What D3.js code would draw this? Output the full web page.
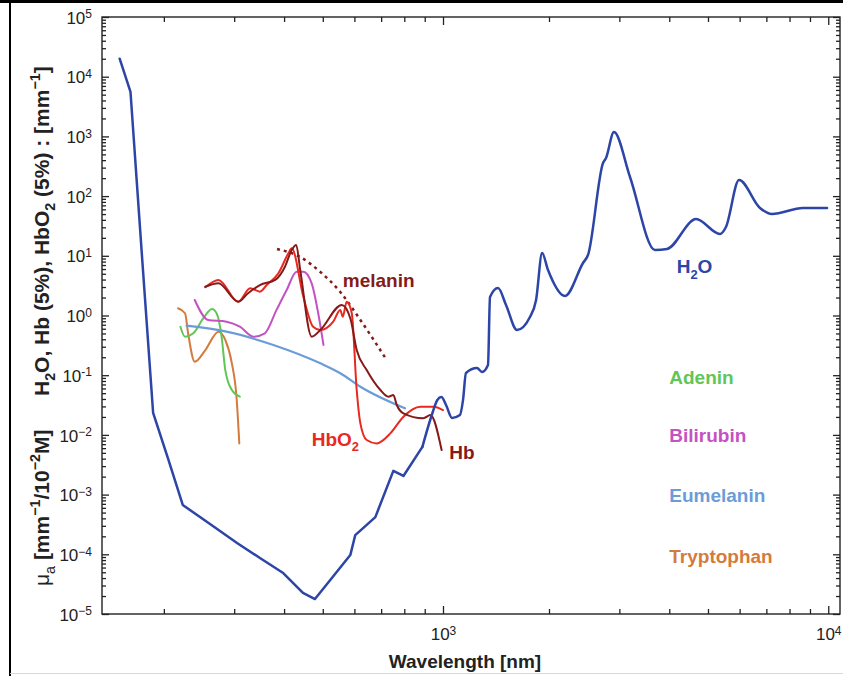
<!DOCTYPE html>
<html>
<head>
<meta charset="utf-8">
<script src="https://cdn.jsdelivr.net/npm/d3@7"></script>
<style>
  body { margin: 0; background: #fff; }
  text { font-family: "Liberation Sans", Arial, Helvetica, sans-serif; }
</style>
</head>
<body>
<div id="chart_div"></div>
<script>
// ---- data (wavelength in nm, absorption in mm^-1) ----
const h2oWavelength = [155, 165, 176, 188, 205, 223, 261, 305, 348, 398, 446, 478, 522, 586, 603, 677, 751, 796, 888, 941, 968, 991, 1020, 1061,
    1117, 1140, 1162, 1249, 1291, 1342, 1360, 1433, 1510, 1622, 1766, 1838, 1912, 1987, 2193, 2433, 2504, 2731, 2778, 2908,
    3190, 3684, 3949, 4667, 5358, 5546, 5979, 6747, 7230, 8644, 9930];
const h2oAbsorption = [2.0e4, 5.55e3, 11.6, 2.33e-2, 3.95e-3, 6.7e-4, 3.22e-4, 1.55e-4, 8.67e-5, 4.86e-5, 2.25e-5, 1.78e-5, 3.7e-5, 9.7e-5,
    2.1e-4, 4.2e-4, 2.5e-3, 2.05e-3, 6.3e-3, 2.33e-2, 3.85e-2, 4.3e-2, 3.17e-2, 1.92e-2,
    2.15e-2, 3.85e-2, 0.109, 0.132, 0.113, 0.148, 2.04, 2.89, 1.5, 0.571,
    0.944, 1.82, 11.1, 5.78, 2.12, 7.57, 10.3, 358, 435, 1185,
    209, 12.5, 13.0, 41.3, 23.2, 30.4, 186, 63.2, 50.1, 63.2, 63.2];
// below this wavelength the source trace is drawn as straight segments
const h2oLinearUntil = 888;

const hbo2Wavelength = [254, 274, 307, 329, 348, 362, 387, 410, 418, 447, 473, 493, 531, 553, 561, 574, 591, 608, 621, 644, 682, 738, 796, 878, 946, 1000];
const hbo2Absorption = [2.97, 3.94, 1.70, 2.86, 2.51, 3.24, 5.09, 11.0, 13.4, 2.07, 0.649, 0.571, 0.787, 1.24, 0.955, 1.70, 1.09, 0.0565, 0.0156, 0.0082, 0.0072, 0.0106, 0.0202, 0.0297, 0.0297, 0.0261];

const hbWavelength = [254, 274, 307, 325, 348, 380, 402, 418, 429, 439, 469, 493, 558, 586, 608, 644, 697, 730, 751, 766, 796, 893, 930, 992];
const hbAbsorption = [3.03, 3.46, 1.70, 2.36, 3.24, 3.94, 6.57, 12.5, 15.2, 5.78, 0.442, 0.571, 1.50, 0.898, 0.264, 0.122, 0.0565, 0.0437, 0.0466, 0.0317, 0.0230, 0.0190, 0.0215, 0.00558];

const melaninWavelength = [384, 439, 493, 553, 621, 720];
const melaninAbsorption = [13.0, 9.55, 5.36, 2.48, 0.841, 0.187];

const bilirubinWavelength = [239, 258, 287, 310, 335, 358, 383, 406, 430, 447, 469, 487, 502];
const bilirubinAbsorption = [1.82, 0.841, 0.787, 0.649, 0.442, 0.504, 1.24, 2.67, 5.42, 5.42, 3.46, 1.09, 0.321];

const adeninWavelength = [220, 226, 237, 251, 264, 271, 279, 285, 296, 310];
const adeninAbsorption = [0.649, 0.442, 0.504, 0.898, 1.28, 1.09, 0.442, 0.122, 0.0565, 0.0437];

const tryptophanWavelength = [217, 226, 230, 239, 254, 274, 285, 296, 304, 309];
const tryptophanAbsorption = [1.32, 1.09, 0.504, 0.168, 0.264, 0.536, 0.389, 0.158, 0.0437, 0.0072];

const eumelaninWavelength = [228, 287, 376, 493, 553, 621, 803];
const eumelaninAbsorption = [0.675, 0.536, 0.321, 0.158, 0.108, 0.0642, 0.0279];

// tick labels
const yTickExponents = [5, 4, 3, 2, 1, 0, -1, -2, -3, -4, -5];
const yTickLabels = ["5", "4", "3", "2", "1", "0", "-1", "\u22122", "\u22123", "\u22124", "\u22125"];
const xTickValues = [1000, 10000];
const xTickLabels = ["3", "4"];

// curve labels, anchored in data space
const labelNames = ["H2O", "Adenin", "Bilirubin", "Eumelanin", "Tryptophan", "HbO2", "Hb", "melanin"];
const labelWavelengths = [4174, 4000, 4000, 4000, 4000, 469, 1042, 561];
const labelValues = [5.09, 0.0713, 0.00769, 7.43e-4, 7.23e-5, 0.00659, 0.00394, 3.03];

// ---- layout ----
var margin = {top: 17, right: 3, bottom: 62, left: 102},
    width = 843 - margin.left - margin.right,
    height = 676 - margin.top - margin.bottom;

var svgRoot = d3.select("#chart_div")
    .append("svg")
        .attr("width", 843)
        .attr("height", 676);

// figure frame (top & left black rules, light bottom)
svgRoot.append("line").attr("x1", 0).attr("x2", 843).attr("y1", 1.5).attr("y2", 1.5)
    .attr("stroke", "#000").attr("stroke-width", 3);
svgRoot.append("line").attr("x1", 10).attr("x2", 10).attr("y1", 0).attr("y2", 676)
    .attr("stroke", "#000").attr("stroke-width", 2);
svgRoot.append("line").attr("x1", 10).attr("x2", 843).attr("y1", 673.5).attr("y2", 673.5)
    .attr("stroke", "#d8d8d8").attr("stroke-width", 1);

var chart = svgRoot.append("g")
    .attr("transform", "translate(" + margin.left + "," + margin.top + ")");

// the source x axis is not quite uniform across 10^3, so piecewise log
var xScale = d3.scaleLog()
    .domain([140, 1000, 2000, 10700])
    .range([0, 341, 447, width]);

var yScale = d3.scaleLog()
    .domain([1e-5, 1e5])
    .range([height, 0]);

// minor tick values
let xMinor = [];
[100, 1000].forEach(dec => {
    for (let k = 2; k <= 9; k++) xMinor.push(dec * k);
});
let yMinor = [];
for (let e = -5; e < 5; e++) {
    for (let k = 2; k <= 9; k++) yMinor.push(k * Math.pow(10, e));
}
let yMajor = yTickExponents.map(e => Math.pow(10, e));

function styleAxis(g) {
    g.select(".domain").remove();
    g.selectAll(".tick line").attr("stroke", "#222").attr("stroke-width", 1.3);
}

// minor ticks on all four sides
chart.append("g").call(d3.axisLeft(yScale).tickValues(yMinor).tickSize(-4).tickFormat("")).call(styleAxis);
chart.append("g").attr("transform", "translate(" + width + ",0)")
    .call(d3.axisRight(yScale).tickValues(yMinor).tickSize(-4).tickFormat("")).call(styleAxis);
chart.append("g").attr("transform", "translate(0," + height + ")")
    .call(d3.axisBottom(xScale).tickValues(xMinor).tickSize(-5).tickFormat("")).call(styleAxis);
chart.append("g")
    .call(d3.axisTop(xScale).tickValues(xMinor).tickSize(-5).tickFormat("")).call(styleAxis);

// major ticks + labels
chart.append("g").attr("transform", "translate(" + width + ",0)")
    .call(d3.axisRight(yScale).tickValues(yMajor).tickSize(-7).tickFormat("")).call(styleAxis);
chart.append("g")
    .call(d3.axisTop(xScale).tickValues(xTickValues).tickSize(-8).tickFormat("")).call(styleAxis);

var yAxisG = chart.append("g")
    .call(d3.axisLeft(yScale).tickValues(yMajor).tickSize(-7).tickPadding(10).tickFormat(() => ""))
    .call(styleAxis);
yAxisG.selectAll(".tick text").each(function(d, i) {
    let t = d3.select(this)
        .attr("fill", "#222").style("font-size", "17px").attr("dy", "0.36em");
    t.append("tspan").text("10");
    t.append("tspan").attr("dy", "-0.45em").style("font-size", "12px").text(yTickLabels[i]);
});

var xAxisG = chart.append("g")
    .attr("transform", "translate(0," + height + ")")
    .call(d3.axisBottom(xScale).tickValues(xTickValues).tickSize(-8).tickPadding(10).tickFormat(() => ""))
    .call(styleAxis);
xAxisG.selectAll(".tick text").each(function(d, i) {
    let t = d3.select(this)
        .attr("fill", "#222").style("font-size", "17px").attr("dy", "0.95em");
    t.append("tspan").text("10");
    t.append("tspan").attr("dy", "-0.45em").style("font-size", "12px").text(xTickLabels[i]);
});

// plot box
chart.append("rect")
    .attr("width", width).attr("height", height)
    .attr("fill", "none").attr("stroke", "#222").attr("stroke-width", 1.4);

// ---- curves ----
var line = d3.line()
    .x(function(d) { return xScale(d[0]); })
    .y(function(d) { return yScale(d[1]); })
    .curve(d3.curveMonotoneX);

var lineStraight = d3.line()
    .x(function(d) { return xScale(d[0]); })
    .y(function(d) { return yScale(d[1]); });

function addCurve(points, color, w, dash, gen) {
    chart.append("path")
        .datum(points)
        .attr("fill", "none")
        .attr("stroke", color)
        .attr("stroke-width", w)
        .attr("stroke-linejoin", "round")
        .attr("stroke-linecap", dash ? "butt" : "round")
        .attr("stroke-dasharray", dash || null)
        .attr("d", gen || line);
}

const colH2O = "#2c45a6", colHbO2 = "#e8291f", colHb = "#861a18",
      colAdenin = "#62c656", colBilirubin = "#c452c2", colEumelanin = "#6c9cd8", colTryptophan = "#d47b3c";

addCurve(d3.zip(tryptophanWavelength, tryptophanAbsorption), colTryptophan, 2);
addCurve(d3.zip(adeninWavelength, adeninAbsorption), colAdenin, 2);
addCurve(d3.zip(bilirubinWavelength, bilirubinAbsorption), colBilirubin, 2);
addCurve(d3.zip(eumelaninWavelength, eumelaninAbsorption), colEumelanin, 2.2);
addCurve(d3.zip(melaninWavelength, melaninAbsorption), colHb, 2.5, "3 4");
addCurve(d3.zip(hbo2Wavelength, hbo2Absorption), colHbO2, 2);
addCurve(d3.zip(hbWavelength, hbAbsorption), colHb, 2);

let h2oPoints = d3.zip(h2oWavelength, h2oAbsorption);
addCurve(h2oPoints.filter(p => p[0] <= h2oLinearUntil), colH2O, 2.5, null, lineStraight);
addCurve(h2oPoints.filter(p => p[0] >= h2oLinearUntil), colH2O, 2.5);

// ---- text helpers ----
function richText(sel, parts, fs) {
    let shift = 0;
    parts.forEach(p => {
        let target = p.sub ? fs * 0.3 : (p.sup ? -fs * 0.42 : 0);
        sel.append("tspan")
            .attr("dy", (target - shift).toFixed(2))
            .style("font-size", (p.sub || p.sup) ? (fs * 0.68) + "px" : fs + "px")
            .style("font-weight", p.w || null)
            .text(p.t);
        shift = target;
    });
}

const labelParts = {
    "H2O": [{t: "H"}, {t: "2", sub: true}, {t: "O"}],
    "HbO2": [{t: "HbO"}, {t: "2", sub: true}],
};
const labelColors = [colH2O, colAdenin, colBilirubin, colEumelanin, colTryptophan, colHbO2, colHb, colHb];

labelNames.forEach((name, i) => {
    let t = chart.append("text")
        .attr("x", xScale(labelWavelengths[i]))
        .attr("y", yScale(labelValues[i]))
        .attr("fill", labelColors[i])
        .style("font-weight", "bold");
    richText(t, labelParts[name] || [{t: name}], 19);
});

// axis titles
svgRoot.append("text")
    .attr("x", margin.left + 363)
    .attr("y", 668)
    .attr("text-anchor", "middle")
    .attr("fill", "#222")
    .style("font-size", "19px")
    .style("font-weight", "bold")
    .text("Wavelength [nm]");

var yTitleLow = svgRoot.append("text")
    .attr("transform", "translate(49,586) rotate(-90)")
    .attr("fill", "#222");
richText(yTitleLow, [
    {t: "\u03bc", w: "normal"}, {t: "a", sub: true, w: "normal"},
    {t: "  [mm", w: "bold"}, {t: "\u22121", sup: true, w: "bold"}, {t: "/10", w: "bold"},
    {t: "\u22122", sup: true, w: "bold"}, {t: "M]", w: "bold"}
], 21);

var yTitleHigh = svgRoot.append("text")
    .attr("transform", "translate(49,396) rotate(-90)")
    .attr("fill", "#222")
    .style("font-weight", "bold");
richText(yTitleHigh, [
    {t: "H"}, {t: "2", sub: true}, {t: "O, Hb (5%),  HbO"}, {t: "2", sub: true},
    {t: " (5%) : [mm"}, {t: "\u22121", sup: true}, {t: "]"}
], 21);
</script>
</body>
</html>
